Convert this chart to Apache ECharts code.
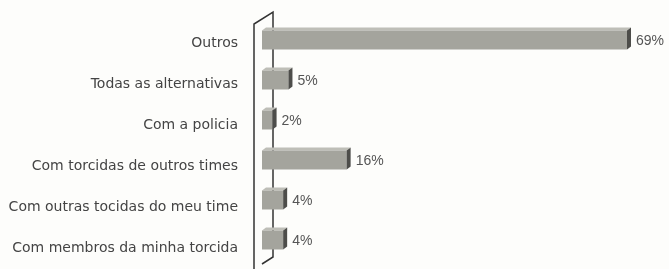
<!DOCTYPE html>
<html>
<head>
<meta charset="utf-8">
<script src="https://cdn.jsdelivr.net/npm/echarts@6/dist/echarts.min.js"></script>
<style>
  html, body { margin: 0; padding: 0; background: #fdfdfb; }
  #chart { width: 669px; height: 269px; }
</style>
</head>
<body>
<div id="chart"></div>
<script>
// categorias (de cima para baixo) e percentuais
const categories = [
  'Outros',
  'Todas as alternativas',
  'Com a policia',
  'Com torcidas de outros times',
  'Com outras tocidas do meu time',
  'Com membros da minha torcida'
]
const values = [69, 5, 2, 16, 4, 4]

const chart = echarts.init(document.getElementById('chart'))

// barra "3D": face frontal + topo + lateral escura
function renderBar(params, api) {
  const idx = api.value(0)
  const v = api.value(1)
  const start = api.coord([0, idx])
  const end = api.coord([v, idx])
  const h = 19
  const d = 4
  const x0 = start[0], x1 = end[0]
  const y0 = start[1] - h / 2, y1 = start[1] + h / 2
  return {
    type: 'group',
    children: [
      {
        type: 'polygon',
        shape: { points: [[x0, y0], [x0 + d, y0 - 3], [x1 + d, y0 - 3], [x1, y0]] },
        style: { fill: '#bebeb7' }
      },
      {
        type: 'rect',
        shape: { x: x0, y: y0, width: x1 - x0, height: h },
        style: { fill: '#a4a49d' }
      },
      {
        type: 'polygon',
        shape: { points: [[x1, y0], [x1 + d, y0 - 3], [x1 + d, y1 - 3], [x1, y1]] },
        style: { fill: '#4d4d4a' }
      },
      {
        type: 'text',
        style: {
          x: x1 + d + 5,
          y: start[1] + 1,
          text: v + '%',
          fill: '#555',
          font: '14px "Liberation Sans", Arial, sans-serif',
          verticalAlign: 'middle'
        }
      }
    ]
  }
}

const option = {
  backgroundColor: '#fdfdfb',
  animation: false,
  grid: [
    { left: 262, right: 42, top: 23, bottom: -3 },
    { left: 262, right: 42, top: 20, bottom: 9 }
  ],
  xAxis: [
    { gridIndex: 0, type: 'value', min: 0, max: 69, show: false },
    { gridIndex: 1, type: 'value', min: 0, max: 69, show: false }
  ],
  yAxis: [
    {
      gridIndex: 0,
      type: 'category',
      inverse: true,
      data: categories,
      axisLine: { show: false },
      axisTick: { show: false },
      axisLabel: {
        margin: 24,
        color: '#444',
        fontSize: 14,
        fontFamily: '"DejaVu Sans", sans-serif'
      }
    },
    {
      gridIndex: 1,
      type: 'category',
      inverse: true,
      data: categories,
      show: false
    }
  ],
  graphic: [
    {
      type: 'polyline',
      z: -1,
      shape: { points: [[254, 269], [254, 24], [273, 12], [273, 257], [262, 264]] },
      style: { stroke: '#333', lineWidth: 1.5, fill: null }
    }
  ],
  series: [
    {
      type: 'custom',
      xAxisIndex: 1,
      yAxisIndex: 1,
      renderItem: renderBar,
      encode: { x: 1, y: 0 },
      data: values.map((v, i) => [i, v])
    }
  ]
}
chart.setOption(option)
</script>
</body>
</html>
